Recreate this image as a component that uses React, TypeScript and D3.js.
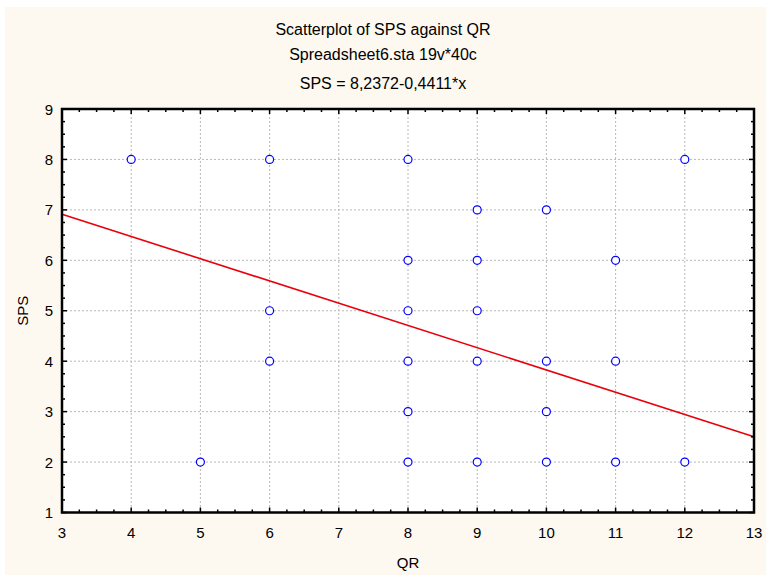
import React, { useRef, useEffect } from 'react';
import * as d3 from 'd3';

const qr = [4, 6, 8, 12, 9, 10, 8, 9, 11, 6, 8, 9, 6, 8, 9, 10, 11, 8, 10, 5, 8, 9, 10, 11, 12];
const sps = [8, 8, 8, 8, 7, 7, 6, 6, 6, 5, 5, 5, 4, 4, 4, 4, 4, 3, 3, 2, 2, 2, 2, 2, 2];
const intercept = 8.2372;
const slope = -0.4411;
const titles = ['Scatterplot of SPS against QR', 'Spreadsheet6.sta 19v*40c', 'SPS = 8,2372-0,4411*x'];

const App = () => {
    const svgRef = useRef(null);

    useEffect(() => {
        const svg = d3.select(svgRef.current);
        svg.selectAll('*').remove();

        const width = 766;
        const height = 575;
        const m = { left: 62, right: 754, top: 109, bottom: 512.5 };
        const font = 'Liberation Sans, Arial, sans-serif';

        svg.append('rect').attr('x', 5).attr('y', 7).attr('width', width - 5).attr('height', height - 7)
            .attr('fill', '#fdf9f0');

        const x = d3.scaleLinear().domain([3, 13]).range([m.left, m.right]);
        const y = d3.scaleLinear().domain([1, 9]).range([m.bottom, m.top]);

        svg.append('rect').attr('x', m.left).attr('y', m.top)
            .attr('width', m.right - m.left).attr('height', m.bottom - m.top).attr('fill', '#fff');

        // grid
        const g = svg.append('g');
        g.selectAll('.gx').data(d3.range(4, 13)).enter().append('line')
            .attr('x1', d => x(d)).attr('x2', d => x(d)).attr('y1', m.top).attr('y2', m.bottom)
            .attr('stroke', '#b8b8b8').attr('stroke-dasharray', '2,2').attr('stroke-width', 1);
        g.selectAll('.gy').data(d3.range(2, 9)).enter().append('line')
            .attr('y1', d => y(d)).attr('y2', d => y(d)).attr('x1', m.left).attr('x2', m.right)
            .attr('stroke', '#b8b8b8').attr('stroke-dasharray', '2,2').attr('stroke-width', 1);

        // regression line
        svg.append('line')
            .attr('x1', x(3)).attr('y1', y(intercept + slope * 3))
            .attr('x2', x(13)).attr('y2', y(intercept + slope * 13))
            .attr('stroke', '#e8000b').attr('stroke-width', 1.6);

        // points
        svg.selectAll('.pt').data(qr.map((q, i) => [q, sps[i]])).enter().append('circle')
            .attr('cx', d => x(d[0])).attr('cy', d => y(d[1])).attr('r', 4)
            .attr('fill', '#fff').attr('stroke', '#0000ff').attr('stroke-width', 1.2);

        // ticks (inward)
        const xt = d3.range(3, 13.001, 0.25);
        const yt = d3.range(1, 9.001, 0.25);
        const isMajor = d => Math.abs(d - Math.round(d)) < 1e-6;
        const tk = svg.append('g').attr('stroke', '#000').attr('stroke-width', 1.5);
        xt.forEach(d => {
            const len = isMajor(d) ? 5 : 3;
            tk.append('line').attr('x1', x(d)).attr('x2', x(d)).attr('y1', m.bottom).attr('y2', m.bottom - len);
            tk.append('line').attr('x1', x(d)).attr('x2', x(d)).attr('y1', m.top).attr('y2', m.top + len);
        });
        yt.forEach(d => {
            const len = isMajor(d) ? 5 : 3;
            tk.append('line').attr('y1', y(d)).attr('y2', y(d)).attr('x1', m.left).attr('x2', m.left + len);
            tk.append('line').attr('y1', y(d)).attr('y2', y(d)).attr('x1', m.right).attr('x2', m.right - len);
        });

        // frame
        svg.append('rect').attr('x', m.left).attr('y', m.top)
            .attr('width', m.right - m.left).attr('height', m.bottom - m.top)
            .attr('fill', 'none').attr('stroke', '#000').attr('stroke-width', 2.5);

        // tick labels
        svg.selectAll('.xl').data(d3.range(3, 14)).enter().append('text')
            .attr('x', d => x(d)).attr('y', 538).attr('text-anchor', 'middle')
            .attr('font-family', font).attr('font-size', 15).attr('fill', '#000').text(d => d);
        svg.selectAll('.yl').data(d3.range(1, 10)).enter().append('text')
            .attr('x', 53).attr('y', d => y(d) + 5.5).attr('text-anchor', 'end')
            .attr('font-family', font).attr('font-size', 15).attr('fill', '#000').text(d => d);

        // axis titles
        svg.append('text').attr('x', (m.left + m.right) / 2).attr('y', 568).attr('text-anchor', 'middle')
            .attr('font-family', font).attr('font-size', 15).text('QR');
        svg.append('text').attr('transform', `translate(27.5,${(m.top + m.bottom) / 2}) rotate(-90)`)
            .attr('text-anchor', 'middle').attr('font-family', font).attr('font-size', 15).text('SPS');

        // titles
        const titleY = [34.5, 60, 89];
        svg.selectAll('.tt').data(titles).enter().append('text')
            .attr('x', 383).attr('y', (d, i) => titleY[i]).attr('text-anchor', 'middle')
            .attr('font-family', font).attr('font-size', 16).attr('fill', '#000').text(d => d);
    }, []);

    return (
        <svg ref={svgRef} width="766" height="575"
            style={{ position: 'absolute', left: 0, top: 0, background: '#fff' }}></svg>
    );
};

export default App;
